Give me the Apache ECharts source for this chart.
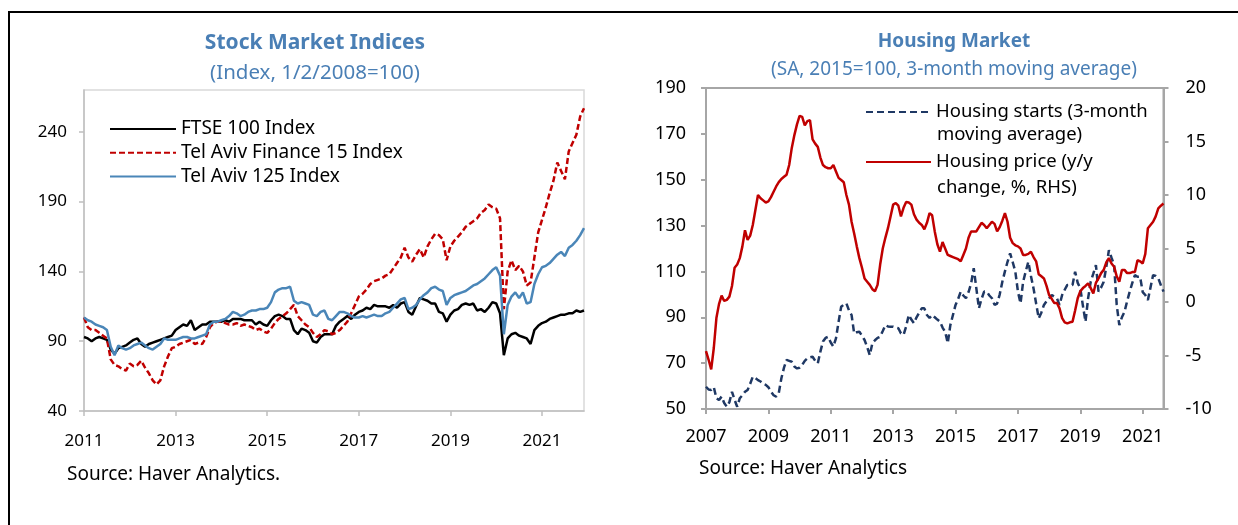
<!DOCTYPE html>
<html>
<head>
<meta charset="utf-8">
<script src="https://cdn.jsdelivr.net/npm/echarts@6/dist/echarts.min.js"></script>
<style>
html,body{margin:0;padding:0;background:#fff;}
#c{width:1238px;height:525px;}
</style>
</head>
<body>
<div id="c"></div>
<script>
// ---------- Left chart: Stock Market Indices (monthly, Jan 2011 - Dec 2021) ----------
const stockYears = [2011, 2021];
const ftse = [
93,92,90,92,93,92,91,84,81,85,86,87,
89,91,92,88,86,88,89,90,91,92,93,94,
98,100,102,101,105,98,100,102,102,104,104,104,
104,105,104,106,106,106,105,105,105,102,104,102,
101,105,108,109,108,106,106,98,95,99,98,96,
90,89,93,95,95,95,101,104,106,108,106,109,
111,112,114,113,116,115,115,115,114,116,114,117,
118,111,109,115,121,120,119,117,117,111,110,104,
109,112,113,116,117,116,117,112,113,111,114,118,
117,110,80,92,95,96,94,93,92,88,98,101,
103,104,106,107,108,109,109,110,110,112,111,112];
const taFinance15 = [
107,100,98,98,96,94,92,77,73,72,70,69,
74,72,73,76,71,67,62,59,62,72,79,85,
86,88,89,90,91,88,89,88,93,100,103,104,
104,103,102,102,103,101,102,101,100,98,99,97,
96,99,103,106,108,110,113,116,108,105,102,100,
96,93,95,98,97,95,96,98,101,104,110,116,
122,124,127,131,133,134,135,137,138,142,146,150,
157,150,147,152,156,150,158,163,167,166,163,148,
158,162,165,168,172,174,176,178,182,184,188,186,
185,178,113,140,148,141,144,140,130,132,150,168,
177,186,196,205,218,212,206,226,232,238,251,257];
const ta125 = [
107,105,104,102,101,100,98,86,80,87,85,84,
85,87,88,89,87,85,84,86,88,92,91,91,
91,92,93,93,92,92,93,94,95,102,104,104,
105,106,108,111,110,108,109,111,112,112,113,113,
114,118,125,127,128,128,129,119,117,118,117,116,
109,108,111,112,106,105,108,111,111,110,108,107,
107,108,107,108,109,108,108,110,111,114,117,120,
121,113,114,116,120,123,125,128,129,127,126,116,
121,123,124,125,126,128,130,131,133,135,138,141,
143,137,95,116,122,125,121,125,117,118,131,138,
143,144,146,149,152,154,151,157,159,162,166,171];
const stockTicks = [40, 90, 140, 190, 240];

// ---------- Right chart: Housing Market (monthly, Jan 2007 - Sep 2021) ----------
const housingStart = [2007, 1];
const housingStarts = [
59.7,58.5,58.3,59.5,54.7,53.9,55.4,52.6,51.0,53.0,57.5,54.0,
51.0,54.7,56.0,57.5,58.3,61.0,64.1,63.5,62.6,62.0,61.0,60.5,
59.5,57.5,56.0,55.4,57.0,63.4,68.0,71.4,71.0,70.6,68.5,67.7,
68.0,69.2,71.0,72.1,72.5,72.8,71.0,69.9,75.0,79.4,81.0,81.5,
79.0,77.2,80.8,88.0,94.6,95.5,96.1,93.0,91.0,83.0,83.5,83.7,
82.0,80.1,77.0,73.5,78.7,80.0,81.0,81.5,84.0,86.6,86.0,85.9,
85.9,85.5,85.2,83.0,82.3,86.0,91.0,89.0,87.4,90.0,92.0,93.9,
93.9,91.0,89.7,91.0,90.0,89.0,88.1,85.5,83.7,78.7,86.6,91.0,
95.4,98.0,101.2,99.5,98.3,101.0,104.8,111.4,102.6,93.9,98.0,101.2,
101.2,99.5,98.3,95.4,96.0,100.0,105.5,110.0,114.2,117.9,114.0,109.9,
101.2,96.1,105.5,110.0,114.2,108.0,102.6,96.0,89.5,92.0,95.4,97.0,
98.3,99.7,99.0,98.3,95.4,99.7,102.0,104.1,104.1,104.1,109.9,105.0,
102.6,95.0,88.1,98.3,105.5,109.0,112.8,101.2,103.0,105.5,112.0,119.3,
116.0,112.8,95.4,86.6,90.0,92.4,97.0,101.2,105.0,108.4,107.7,107.7,
101.0,99.7,97.5,103.0,108.4,108.0,107.0,104.0,101.2];
const housingPrice = [
-4.6,-5.4,-6.3,-4.3,-1.5,-0.2,0.6,0.1,0.2,0.5,1.5,3.2,
3.5,4.1,5.2,6.7,5.8,6.2,7.2,8.6,10.0,9.7,9.5,9.3,
9.4,9.8,10.3,10.8,11.2,11.5,11.7,11.9,12.8,14.4,15.6,16.6,
17.4,17.3,16.5,16.9,17.0,15.2,14.8,14.5,13.5,12.8,12.6,12.5,
12.5,12.8,12.2,11.6,11.4,11.2,10.0,9.1,7.5,6.4,5.2,4.1,
3.2,2.2,1.9,1.6,1.2,1.0,1.6,3.5,5.0,6.0,6.9,8.0,
9.1,9.25,9.0,8.0,8.8,9.35,9.3,9.1,8.2,7.7,7.4,7.2,
6.8,7.4,8.3,8.1,6.6,5.4,4.7,5.6,5.0,4.4,4.3,4.2,
4.1,4.0,3.8,4.4,5.0,6.0,6.6,6.6,6.6,7.0,7.4,7.2,
6.9,7.2,7.5,7.3,6.6,7.0,7.6,8.3,7.5,6.0,5.5,5.3,
5.2,5.0,4.4,4.4,4.5,4.7,4.2,3.8,2.6,2.4,2.2,1.5,
0.65,0.3,-0.1,-0.1,-0.6,-1.5,-1.9,-2.0,-1.9,-1.85,-0.8,0.35,
1.0,1.3,1.5,1.75,1.3,0.8,1.8,2.2,2.7,3.0,3.7,4.1,
3.6,3.3,2.4,1.9,3.0,3.0,2.7,2.7,2.8,2.8,3.9,3.8,
3.6,4.5,6.9,7.2,7.5,8.0,8.75,9.0,9.2];

function months(y0, m0, n) {
  const out = [];
  for (let i = 0; i < n; i++) {
    const t = (y0 * 12 + (m0 - 1)) + i;
    const y = Math.floor(t / 12), m = t % 12 + 1;
    out.push(y + '-' + (m < 10 ? '0' + m : m));
  }
  return out;
}
const stockMonths = months(stockYears[0], 1, ftse.length);
const housingMonths = months(housingStart[0], housingStart[1], housingStarts.length);

const FONT = 'Noto Sans';
const TITLE_BLUE = '#4a7fb5';
const TXT = '#000';

const chart = echarts.init(document.getElementById('c'), null, {renderer: 'canvas'});
const everyTwoYears = (i) => i % 24 === 0;

chart.setOption({
  backgroundColor: '#fff',
  animation: false,
  textStyle: {fontFamily: FONT},
  title: [
    {text: 'Stock Market Indices', left: 310, top: 28, textAlign: 'center',
     textStyle: {fontFamily: FONT, fontSize: 21, fontWeight: 'bold', color: TITLE_BLUE}},
    {text: '(Index, 1/2/2008=100)', left: 310, top: 58, textAlign: 'center',
     textStyle: {fontFamily: FONT, fontSize: 20.5, fontWeight: 'normal', color: TITLE_BLUE}},
    {text: 'Housing Market', left: 949, top: 27, textAlign: 'center',
     textStyle: {fontFamily: FONT, fontSize: 19, fontWeight: 'bold', color: TITLE_BLUE}},
    {text: '(SA, 2015=100, 3-month moving average)', left: 949, top: 55, textAlign: 'center',
     textStyle: {fontFamily: FONT, fontSize: 19, fontWeight: 'normal', color: TITLE_BLUE}}
  ],
  legend: [
    {data: ['FTSE 100 Index', 'Tel Aviv Finance 15 Index', 'Tel Aviv 125 Index'],
     orient: 'vertical', left: 109, top: 119, padding: 0, itemWidth: 66, itemHeight: 14, itemGap: 3.7,
     itemStyle: {opacity: 0},
     textStyle: {fontFamily: FONT, fontSize: 19, color: TXT, lineHeight: 20}},
    {data: ['Housing starts (3-month', 'Housing price (y/y'],
     orient: 'vertical', left: 865, top: 102, padding: 0, itemWidth: 65, itemHeight: 14, itemGap: 30,
     itemStyle: {opacity: 0},
     textStyle: {fontFamily: FONT, fontSize: 18.5, color: TXT, lineHeight: 20}}
  ],
  graphic: [
    {type: 'rect', shape: {x: 9, y: 12, width: 1300, height: 600},
     style: {fill: 'none', stroke: '#000', lineWidth: 2}, silent: true},
    {type: 'text', left: 67, top: 465,
     style: {text: 'Source: Haver Analytics.', font: '19px "Noto Sans"', fill: TXT}},
    {type: 'text', left: 699, top: 459,
     style: {text: 'Source: Haver Analytics', font: '19px "Noto Sans"', fill: TXT}},
    {type: 'text', left: 937, top: 125,
     style: {text: 'moving average)', font: '18.5px "Noto Sans"', fill: TXT}},
    {type: 'text', left: 937, top: 178,
     style: {text: 'change, %, RHS)', font: '18.5px "Noto Sans"', fill: TXT}}
  ],
  grid: [
    {left: 84, top: 90, width: 500, height: 321, show: true, borderColor: '#d9d9d9', borderWidth: 1.5},
    {left: 706, top: 88, width: 457.5, height: 321, show: true, borderColor: '#a6a6a6', borderWidth: 2}
  ],
  xAxis: [
    {type: 'category', gridIndex: 0, data: stockMonths, boundaryGap: false,
     axisLine: {onZero: false, lineStyle: {color: '#bfbfbf', width: 1.5}},
     axisTick: {show: true, interval: everyTwoYears, length: 5, lineStyle: {color: '#bfbfbf', width: 1.5}},
     axisLabel: {interval: everyTwoYears, formatter: v => v.slice(0, 4), margin: 22,
                 fontFamily: FONT, fontSize: 17, color: TXT},
     splitLine: {show: false}},
    {type: 'category', gridIndex: 1, data: housingMonths, boundaryGap: false,
     axisLine: {onZero: false, lineStyle: {color: '#a6a6a6', width: 2}},
     axisTick: {show: true, interval: everyTwoYears, length: 5, lineStyle: {color: '#a6a6a6', width: 2}},
     axisLabel: {interval: everyTwoYears, formatter: v => v.slice(0, 4), margin: 19,
                 fontFamily: FONT, fontSize: 18, color: TXT},
     splitLine: {show: false}}
  ],
  yAxis: [
    {type: 'value', gridIndex: 0, min: 40, max: 270, interval: 50,
     axisLine: {show: true, lineStyle: {color: '#bfbfbf', width: 1.5}},
     axisTick: {show: true, length: 5, customValues: stockTicks, lineStyle: {color: '#bfbfbf', width: 1.5}},
     axisLabel: {customValues: stockTicks, margin: 17, fontFamily: FONT, fontSize: 17, color: TXT},
     splitLine: {show: false}},
    {type: 'value', gridIndex: 1, min: 50, max: 190, interval: 20, position: 'left',
     axisLine: {show: true, lineStyle: {color: '#a6a6a6', width: 2}},
     axisTick: {show: true, length: 5, lineStyle: {color: '#a6a6a6', width: 2}},
     axisLabel: {margin: 20, fontFamily: FONT, fontSize: 18, color: TXT},
     splitLine: {show: false}},
    {type: 'value', gridIndex: 1, min: -10, max: 20, interval: 5, position: 'right',
     axisLine: {show: true, lineStyle: {color: '#a6a6a6', width: 2}},
     axisTick: {show: true, length: 5, lineStyle: {color: '#a6a6a6', width: 2}},
     axisLabel: {margin: 22, fontFamily: FONT, fontSize: 18, color: TXT},
     splitLine: {show: false}}
  ],
  series: [
    {name: 'FTSE 100 Index', type: 'line', xAxisIndex: 0, yAxisIndex: 0, data: ftse,
     symbol: 'none', lineStyle: {color: '#000', width: 2.5}, itemStyle: {color: '#000'}},
    {name: 'Tel Aviv Finance 15 Index', type: 'line', xAxisIndex: 0, yAxisIndex: 0, data: taFinance15,
     symbol: 'none', lineStyle: {color: '#c00000', width: 2.5, type: [6, 3]}, itemStyle: {color: '#c00000'}},
    {name: 'Tel Aviv 125 Index', type: 'line', xAxisIndex: 0, yAxisIndex: 0, data: ta125,
     symbol: 'none', lineStyle: {color: '#4a86b8', width: 2.5}, itemStyle: {color: '#4a86b8'}},
    {name: 'Housing starts (3-month', type: 'line', xAxisIndex: 1, yAxisIndex: 1, data: housingStarts,
     symbol: 'none', lineStyle: {color: '#1f3864', width: 2.5, type: [7, 4]}, itemStyle: {color: '#1f3864'}},
    {name: 'Housing price (y/y', type: 'line', xAxisIndex: 1, yAxisIndex: 2, data: housingPrice,
     symbol: 'none', lineStyle: {color: '#c00000', width: 2.5}, itemStyle: {color: '#c00000'}}
  ]
});
</script>
</body>
</html>
